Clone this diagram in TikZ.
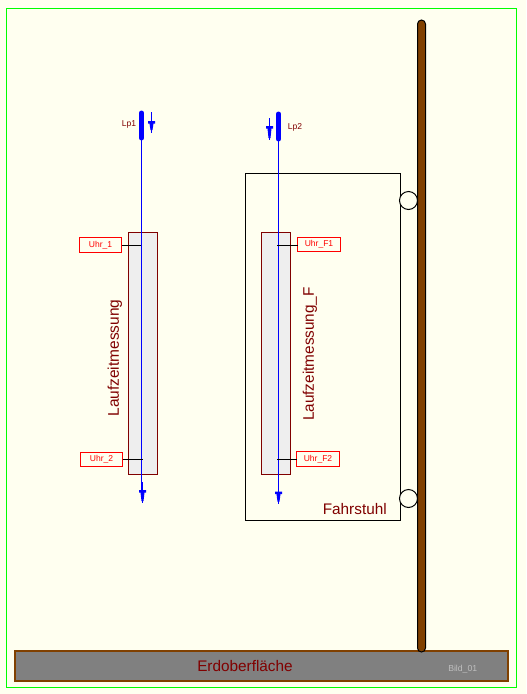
\documentclass[tikz,border=0pt]{standalone}
\usepackage{fontspec}
\setmainfont{Liberation Sans}
\definecolor{ivorybg}{HTML}{FFFFF0}
\definecolor{polebrown}{HTML}{804000}
\definecolor{darkred}{HTML}{800000}
\definecolor{boxgray}{HTML}{EEEEEE}
\definecolor{groundgray}{HTML}{808080}
\definecolor{pureblue}{HTML}{0000FF}
\definecolor{purered}{HTML}{FF0000}
\definecolor{puregreen}{HTML}{00FF00}
\tikzset{
  px/.style={line width=#1*0.75pt},
  sized/.style 2 args={minimum width=#1*0.75pt,minimum height=#2*0.75pt,inner sep=0pt,outer sep=0pt},
  uhrbox/.style={draw=purered,px=1,fill=ivorybg,text=purered,font=\fontsize{6.4pt}{7pt}\selectfont},
  messbox/.style={draw=darkred,px=1,fill=boxgray},
  wire/.style={draw=pureblue,px=1},
  bar/.style={draw=pureblue,px=5,line cap=round},
  tick/.style={draw=black,px=1},
  wheel/.style={circle,draw=black,px=1,fill=ivorybg,inner sep=0pt,outer sep=0pt,minimum size=13.5pt},
  lbl/.style={inner sep=0pt,text=darkred},
  pics/pinehead/.style={code={
    \fill[pureblue] (-3.5,0) -- (3.5,0) -- (3.5,2.5) -- (2,2.5) -- (1,#1) -- (-1,#1) -- (-2,2.5) -- (-3.5,2.5) -- cycle;
  }},
}
\begin{document}
\begin{tikzpicture}[x=0.75pt,y=-0.75pt]
\useasboundingbox (0,0) rectangle (526,694);
\fill[ivorybg] (0,0) rectangle (526,694);
\node[draw=puregreen,px=1,sized={510}{679}] (frame) at (261.5,348) {};
% elevator
\node[draw=black,px=1,fill=ivorybg,sized={155}{347}] (fahrstuhl) at (323,347) {};
\node[wheel] (w1) at (408.5,200.5) {};
\node[wheel] (w2) at (408.5,498.5) {};
% ground and pole
\node[draw=polebrown,px=2,fill=groundgray,sized={493}{30}] (ground) at (261.5,666) {};
\node[draw=black,px=1,fill=polebrown,rounded corners=3pt,sized={8}{632}] (pole) at (421.5,336) {};
% measuring boxes
\node[messbox,sized={29}{242}] (m1) at (143,353.5) {};
\node[messbox,sized={29}{242}] (m2) at (276,353.5) {};
% clock labels
\node[uhrbox,sized={42}{15}] (u1) at (100.5,245) {Uhr\_1};
\node[uhrbox,sized={42}{14}] (u2) at (101.5,459.5) {Uhr\_2};
\node[uhrbox,sized={43}{14}] (uf1) at (319,244.5) {Uhr\_F1};
\node[uhrbox,sized={43}{15}] (uf2) at (318,459) {Uhr\_F2};
% named points
\coordinate (a1) at (141.5,113);
\coordinate (a2) at (141.5,138);
\coordinate (a3) at (141.5,490);
\coordinate (a4) at (142.5,503);
\coordinate (b1) at (278.5,114);
\coordinate (b2) at (278.5,139);
\coordinate (b3) at (278.5,504);
\coordinate (c1) at (151.5,112);
\coordinate (c2) at (151.5,133);
\coordinate (d1) at (269.5,118);
\coordinate (d2) at (269.5,140);
\coordinate (t1) at (141,245.5);
\coordinate (t2) at (142.7,459.5);
\coordinate (t3) at (277.3,245.5);
\coordinate (t4) at (277.3,459.5);
% lines
\draw[wire] (a2) -- (a3);
\draw[draw=pureblue,px=1.6] (141.8,482) -- (141.8,491);
\draw[wire] (142.5,491) -- (a4);
\draw[wire] (b2) -- (b3);
\draw[bar] (a1) -- (a2);
\draw[bar] (b1) -- (b2);
\draw[wire] (c1) -- (c2);
\draw[wire] (d1) -- (d2);
\pic at (142.5,490) {pinehead=11};
\pic at (278.5,491.5) {pinehead=10};
\pic at (151.5,121) {pinehead=9};
\pic at (269.5,126) {pinehead=12};
\draw[tick] (u1.east |- t1) -- (t1);
\draw[tick] (u2.east |- t2) -- (t2);
\draw[tick] (uf1.west |- t3) -- (t3);
\draw[tick] (uf2.west |- t4) -- (t4);
% texts
\node[lbl,font=\fontsize{6.4pt}{7pt}\selectfont,anchor=east] (lp1) at (136.5,124.5) {Lp1};
\node[lbl,font=\fontsize{6.4pt}{7pt}\selectfont,anchor=west] (lp2) at (287.5,127.5) {Lp2};
\node[lbl,font=\fontsize{11.5pt}{13pt}\selectfont,anchor=east] (ft) at (387,509) {Fahrstuhl};
\node[lbl,font=\fontsize{11.6pt}{14pt}\selectfont,rotate=90] (l1) at (115,358) {Laufzeitmessung};
\node[lbl,font=\fontsize{11.5pt}{14pt}\selectfont,rotate=90] (l2) at (310,354) {Laufzeitmessung\_F};
\node[lbl,font=\fontsize{11.5pt}{13pt}\selectfont] (erde) at (245,666) {Erdoberfläche};
\node[lbl,text=lightgray,font=\fontsize{6.5pt}{7pt}\selectfont,anchor=west] (bild) at (448,669) {Bild\_01};
\end{tikzpicture}
\end{document}
